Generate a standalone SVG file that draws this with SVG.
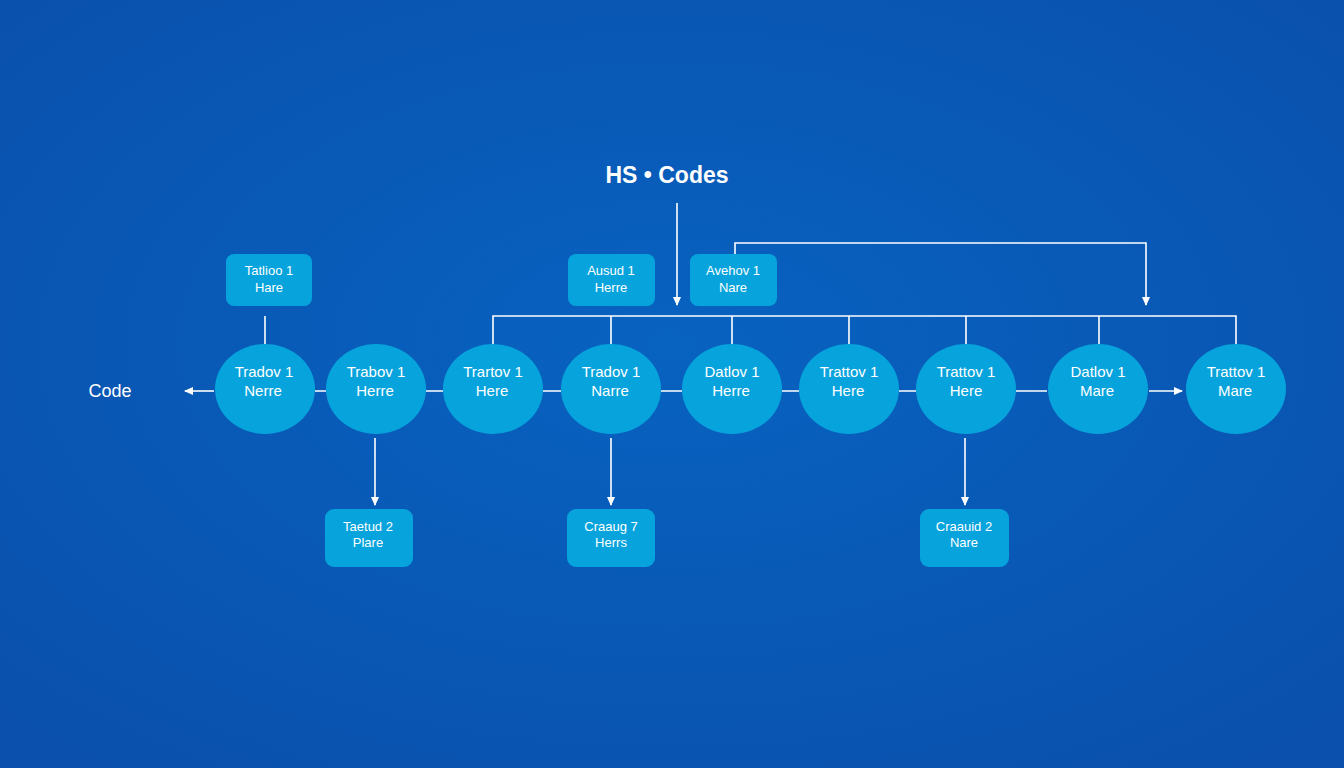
<svg xmlns="http://www.w3.org/2000/svg" width="1344" height="768" viewBox="0 0 1344 768">
<defs>
<radialGradient id="bg" cx="50%" cy="45%" r="70%"><stop offset="0" stop-color="#0862c0"/><stop offset="1" stop-color="#0a50ac"/></radialGradient>
<marker id="ar" markerWidth="10" markerHeight="10" refX="8" refY="5" orient="auto" markerUnits="userSpaceOnUse"><path d="M0,1 L9,5 L0,9 z" fill="#fff"/></marker>
<style>
.n{fill:#07a3dc}
.t{fill:#fff;font-family:"Liberation Sans",Arial,sans-serif;font-size:15px;text-anchor:middle}
.s{font-size:13px}
.c{stroke:#fff;stroke-width:1.6;fill:none}
.a{marker-end:url(#ar)}
</style>
</defs>
<rect width="1344" height="768" fill="url(#bg)"/>
<text x="667" y="183" class="t" style="font-size:23px;font-weight:bold">HS • Codes</text>
<text x="110" y="397" class="t" style="font-size:18px">Code</text>
<g id="connectors">
<path class="c a" d="M677,203 V305"/>
<path class="c a" d="M735,254 V243 H1146 V305"/>
<path class="c" d="M493,344 V316 H1236 V344 M611,316 V344 M732,316 V344 M849,316 V344 M966,316 V344 M1099,316 V344"/>
<path class="c" d="M265,316 V344"/>
<path class="c a" d="M214,391 H185"/>
<path class="c" d="M315,391 H326 M426,391 H443 M543,391 H561 M661,391 H682 M782,391 H799 M899,391 H916 M1016,391 H1047"/>
<path class="c a" d="M1149,391 H1182"/>
<path class="c a" d="M375,438 V505"/>
<path class="c a" d="M611,438 V505"/>
<path class="c a" d="M965,438 V505"/>
</g>
<g id="r1"><rect class="n" x="226" y="254" width="86" height="52" rx="8"/><text class="t s" x="269" y="275">Tatlioo 1</text><text class="t s" x="269" y="292">Hare</text></g>
<g id="r2"><rect class="n" x="568" y="254" width="87" height="52" rx="8"/><text class="t s" x="611" y="275">Ausud 1</text><text class="t s" x="611" y="292">Herre</text></g>
<g id="r3"><rect class="n" x="690" y="254" width="87" height="52" rx="8"/><text class="t s" x="733" y="275">Avehov 1</text><text class="t s" x="733" y="292">Nare</text></g>
<g id="c1"><ellipse class="n" cx="265" cy="389" rx="50" ry="45"/><text class="t" x="264" y="377">Tradov 1</text><text class="t" x="263" y="396">Nerre</text></g>
<g id="c2"><ellipse class="n" cx="376" cy="389" rx="50" ry="45"/><text class="t" x="376" y="377">Trabov 1</text><text class="t" x="375" y="396">Herre</text></g>
<g id="c3"><ellipse class="n" cx="493" cy="389" rx="50" ry="45"/><text class="t" x="493" y="377">Trartov 1</text><text class="t" x="492" y="396">Here</text></g>
<g id="c4"><ellipse class="n" cx="611" cy="389" rx="50" ry="45"/><text class="t" x="611" y="377">Tradov 1</text><text class="t" x="610" y="396">Narre</text></g>
<g id="c5"><ellipse class="n" cx="732" cy="389" rx="50" ry="45"/><text class="t" x="732" y="377">Datlov 1</text><text class="t" x="731" y="396">Herre</text></g>
<g id="c6"><ellipse class="n" cx="849" cy="389" rx="50" ry="45"/><text class="t" x="849" y="377">Trattov 1</text><text class="t" x="848" y="396">Here</text></g>
<g id="c7"><ellipse class="n" cx="966" cy="389" rx="50" ry="45"/><text class="t" x="966" y="377">Trattov 1</text><text class="t" x="966" y="396">Here</text></g>
<g id="c8"><ellipse class="n" cx="1098" cy="389" rx="50" ry="45"/><text class="t" x="1098" y="377">Datlov 1</text><text class="t" x="1097" y="396">Mare</text></g>
<g id="c9"><ellipse class="n" cx="1236" cy="389" rx="50" ry="45"/><text class="t" x="1236" y="377">Trattov 1</text><text class="t" x="1235" y="396">Mare</text></g>
<g id="b1"><rect class="n" x="325" y="509" width="88" height="58" rx="9"/><text class="t s" x="368" y="531">Taetud 2</text><text class="t s" x="368" y="547">Plare</text></g>
<g id="b2"><rect class="n" x="567" y="509" width="88" height="58" rx="9"/><text class="t s" x="611" y="531">Craaug 7</text><text class="t s" x="611" y="547">Herrs</text></g>
<g id="b3"><rect class="n" x="920" y="509" width="89" height="58" rx="9"/><text class="t s" x="964" y="531">Craauid 2</text><text class="t s" x="964" y="547">Nare</text></g>
</svg>
